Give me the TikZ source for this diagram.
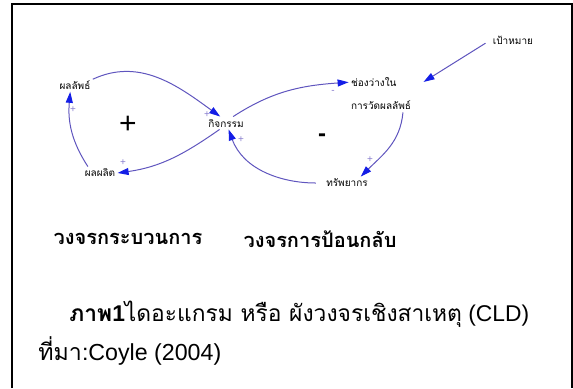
\documentclass[tikz,border=0pt]{standalone}
\usepackage{fontspec}
\setmainfont{Liberation Sans}
\newfontfamily\thaifont[Script=Thai]{Loma}
\usetikzlibrary{arrows.meta}

\definecolor{linkcol}{RGB}{95,85,190}
\definecolor{tipcol}{RGB}{20,30,230}
\definecolor{signcol}{RGB}{135,125,205}

\begin{document}
\begin{tikzpicture}[x=0.5pt,y=-0.5pt,
  var/.style={font=\thaifont\fontsize{5}{6}\selectfont,inner sep=1pt},
  link/.style={draw=linkcol,line width=0.5pt,-{Triangle[length=5.5pt,width=3.5pt,color=tipcol]}},
  pol/.style={text=signcol,font=\fontsize{5}{5}\selectfont,inner sep=0pt},
  head/.style={font=\thaifont\bfseries\fontsize{10}{11}\selectfont,inner sep=0pt}]
  \useasboundingbox (0,0) rectangle (573,388);
  % กรอบ
  \draw[line width=1pt] (11.5,388) -- (11.5,4) -- (571.5,4) -- (571.5,388);
  % ตัวแปร
  \node[var] (res) at (75,85) {ผลลัพธ์};
  \node[var] (act) at (226,123) {กิจกรรม};
  \node[var] (prod) at (100,173) {ผลผลิต};
  \node[var,align=left] (gap) at (381,94) {ช่องว่างใน\\[5.5pt]การวัดผลลัพธ์};
  \node[var] (goal) at (513,40) {เป้าหมาย};
  \node[var] (resrc) at (347,183) {ทรัพยากร};
  % ขั้วของวงจร
  \node[font=\fontsize{15}{15}\selectfont] (rloop) at (128,125) {+};
  \node[font=\bfseries\fontsize{12}{12}\selectfont] (bloop) at (322,138) {-};
  % วงจรกระบวนการ
  \draw[link] (res.18) to[out=25,in=144] (act.132);
  \draw[link] (act.225) to[out=215,in=8] (prod.east);
  \draw[link] (prod.152) to[out=123,in=265] (res.235);
  \node[pol] (s1) at (207,115) {+};
  \node[pol] (s2) at (123,163) {+};
  \node[pol] (s3) at (73,110) {+};
  % วงจรป้อนกลับ
  \draw[link] (act.42) to[out=33,in=184] (gap.160);
  \draw[link] (gap.320) to[out=-95,in=45] (resrc.25);
  \draw[link,shorten <=4pt] (resrc.west) to[out=180,in=-70] (act.292);
  \draw[link,shorten <=3pt,shorten >=6pt] (goal.west) -- (gap.10);
  \node[pol] (s4) at (333,92) {-};
  \node[pol] (s5) at (370,160) {+};
  \node[pol] (s6) at (241,140) {+};
  % ชื่อวงจรและคำบรรยาย
  \node[head] (rname) at (128,239) {วงจรกระบวนการ};
  \node[head] (bname) at (320,239) {วงจรการป้อนกลับ};
  \node[anchor=west,inner sep=0pt,font=\fontsize{11.4}{12}\selectfont] (cap) at (69,314)
    {{\thaifont\bfseries ภาพ}\textbf{1}{\thaifont ไดอะแกรม หรือ ผังวงจรเชิงสาเหตุ} (CLD)};
  \node[anchor=west,inner sep=0pt,font=\fontsize{11.6}{12}\selectfont] (src) at (38,351)
    {{\thaifont ที่มา}:Coyle (2004)};
\end{tikzpicture}
\end{document}
